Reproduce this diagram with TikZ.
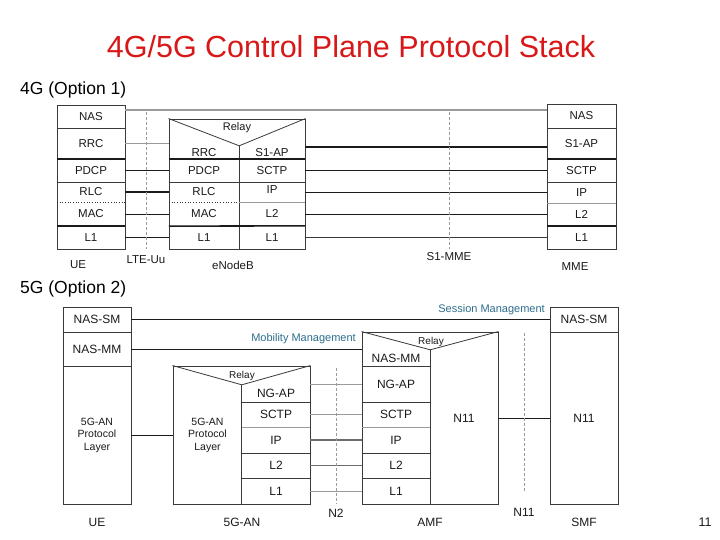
\documentclass[tikz,border=0pt]{standalone}
\usepackage{fontspec}
\setmainfont{Liberation Sans}
\usepackage{xcolor}
\usepackage{tikz}
\usetikzlibrary{calc}
\definecolor{psRed}{HTML}{D81818}
\definecolor{psTeal}{HTML}{2E6E8E}
\definecolor{psInk}{HTML}{1A1A1A}
\definecolor{psDark}{HTML}{3A3A3A}
\definecolor{psGrey}{HTML}{9A9A9A}
\tikzset{
  % Protocol stack frame
  stackbox/.style={rectangle,draw=psDark,line width=0.9pt,
    inner sep=0pt,fill=white},
  % One layer of a stack (text only, rules drawn apart)
  cell/.style={rectangle,inner sep=0pt,align=center,
    font=\fontsize{11.5}{13}\selectfont,text=psInk},
  cellg/.style={cell,font=\fontsize{12}{13}\selectfont},
  % Layer separators
  sep/.style={draw=psDark,line width=0.8pt},
  septhick/.style={draw=psInk,line width=1.6pt},
  sepgrey/.style={draw=psGrey,line width=0.8pt},
  sepdot/.style={draw=psDark,line width=0.7pt,dotted},
  % Peer-to-peer links
  link/.style={draw=psInk,line width=0.9pt},
  linkthick/.style={draw=psInk,line width=1.7pt},
  linkgrey/.style={draw=psGrey,line width=1.1pt},
  linkmid/.style={draw=psGrey!70!black,line width=1.4pt},
  % Reference points (interfaces)
  iface/.style={draw=psGrey,line width=0.7pt,densely dashed},
  % Texts
  relaytxt/.style={font=\fontsize{10.5}{12}\selectfont,text=psInk,inner sep=0pt},
  lbl/.style={font=\fontsize{11.5}{13}\selectfont,text=psInk,inner sep=0pt},
  mgmt/.style={font=\fontsize{11}{13}\selectfont,text=psTeal,inner sep=0pt},
  head/.style={font=\fontsize{17.5}{20}\selectfont,text=black,inner sep=0pt},
}
\begin{document}
\begin{tikzpicture}[x=1pt,y=-1pt]
  \useasboundingbox[fill=white] (0,0) rectangle (720,540);

  \node[font=\fontsize{30.5}{34}\selectfont,text=psRed] (title) at (351,47)
    {4G/5G Control Plane Protocol Stack};
  \node[head,anchor=west] (opt1) at (20,90) {4G (Option 1)};
  \node[head,anchor=west] (opt2) at (20,289) {5G (Option 2)};
  \node[lbl,font=\fontsize{12.5}{14}\selectfont] (pageno) at (705,522) {11};

  % ---------------- 4G : UE ----------------
  \node[stackbox,minimum width=68,minimum height=144] (ue4) at (91,177) {};
  \node[cell,minimum width=68,minimum height=23] (ue4nas) at (91,116.5) {NAS};
  \node[cell,minimum width=68,minimum height=31] (ue4rrc) at (91,143.5) {RRC};
  \node[cell,minimum width=68,minimum height=23] (ue4pdcp) at (91,170.5) {PDCP};
  \node[cell,minimum width=68,minimum height=20] (ue4rlc) at (91,192) {RLC};
  \node[cell,minimum width=68,minimum height=24] (ue4mac) at (91,214) {MAC};
  \node[cell,minimum width=68,minimum height=23] (ue4l1) at (91,237.5) {L1};
  \draw[sep] (ue4nas.south west) -- (ue4nas.south east);
  \draw[septhick] (ue4rrc.south west) -- (ue4rrc.south east);
  \draw[sep] (ue4pdcp.south west) -- (ue4pdcp.south east);
  \draw[sepdot] (ue4rlc.south west) -- (ue4rlc.south east);
  \draw[septhick] (ue4mac.south west) -- (ue4mac.south east);

  % ---------------- 4G : eNodeB ----------------
  \node[stackbox,minimum width=136,minimum height=130] (enb4) at (237,184) {};
  \node[cell,minimum width=70,minimum height=13] (enb4rrc) at (204,152.5) {RRC};
  \node[cell,minimum width=70,minimum height=23] (enb4pdcp) at (204,170.5) {PDCP};
  \node[cell,minimum width=70,minimum height=20] (enb4rlc) at (204,192) {RLC};
  \node[cell,minimum width=70,minimum height=24] (enb4mac) at (204,214) {MAC};
  \node[cell,minimum width=70,minimum height=23] (enb4l1) at (204,237.5) {L1};
  \node[cell,minimum width=66,minimum height=13] (enb4s1ap) at (272,152.5) {S1-AP};
  \node[cell,minimum width=66,minimum height=23] (enb4sctp) at (272,170.5) {SCTP};
  \node[cell,minimum width=66,minimum height=21] (enb4ip) at (272,190) {IP};
  \node[cell,minimum width=66,minimum height=23] (enb4ltwo) at (272,213) {L2};
  \node[cell,minimum width=66,minimum height=23] (enb4lone) at (272,237.5) {L1};
  \node[relaytxt,font=\fontsize{11}{12}\selectfont] (enb4relay) at (237,128) {Relay};
  \draw[sep] (enb4.north west) -- (enb4rrc.north east) -- (enb4.north east);
  \draw[sep] (enb4rrc.north east) -- (enb4l1.south east);
  \draw[septhick] (enb4rrc.south west) -- (enb4s1ap.south east);
  \draw[sep] (enb4pdcp.south west) -- (enb4sctp.south east);
  \draw[sepdot] (enb4rlc.south west) -- (enb4rlc.south east);
  \draw[sepgrey] (enb4rlc.south east) -- (enb4s1ap.south east |- enb4rlc.south);
  \draw[septhick] (enb4mac.south west) -- (enb4lone.north east);

  % ---------------- 4G : MME ----------------
  \node[stackbox,minimum width=69,minimum height=145] (mme4) at (581.5,176.5) {};
  \node[cell,minimum width=69,minimum height=24] (mme4nas) at (581.5,116) {NAS};
  \node[cell,minimum width=69,minimum height=31] (mme4s1ap) at (581.5,143.5) {S1-AP};
  \node[cell,minimum width=69,minimum height=23] (mme4sctp) at (581.5,170.5) {SCTP};
  \node[cell,minimum width=69,minimum height=21] (mme4ip) at (581.5,192.5) {IP};
  \node[cell,minimum width=69,minimum height=23] (mme4ltwo) at (581.5,214.5) {L2};
  \node[cell,minimum width=69,minimum height=23] (mme4lone) at (581.5,237.5) {L1};
  \draw[sep] (mme4nas.south west) -- (mme4nas.south east);
  \draw[septhick] (mme4s1ap.south west) -- (mme4s1ap.south east);
  \draw[sep] (mme4sctp.south west) -- (mme4sctp.south east);
  \draw[sepgrey] (mme4ip.south west) -- (mme4ip.south east);
  \draw[septhick] (mme4ltwo.south west) -- (mme4ltwo.south east);

  % 4G peer links
  \coordinate (nas4L) at ([yshift=6.5pt]ue4nas.east);
  \coordinate (s1apR) at ([yshift=-3.5pt]mme4s1ap.west);
  \draw[linkgrey] (nas4L) -- (nas4L -| mme4nas.west);
  \draw[linkgrey] (ue4rrc.east) -- (ue4rrc.east -| enb4.west);
  \draw[link] (ue4pdcp.east) -- (enb4pdcp.west);
  \draw[linkthick] (ue4rlc.east) -- (enb4rlc.west);
  \draw[link] (ue4mac.east) -- (enb4mac.west);
  \draw[link] (ue4l1.east) -- (enb4l1.west);
  \draw[linkthick] (s1apR -| enb4.east) -- (s1apR);
  \draw[link,line width=0.7pt] (enb4sctp.east) -- (mme4sctp.west);
  \draw[linkthick] (enb4ip.east |- mme4ip.west) -- (mme4ip.west);
  \draw[link,line width=1.1pt] (enb4ltwo.east |- mme4ltwo.west) -- (mme4ltwo.west);
  \draw[link,draw=psDark,line width=0.7pt] (enb4lone.east) -- (mme4lone.west);

  % 4G reference points and labels
  \coordinate (uuTop) at (146,112);
  \coordinate (s1mmeTop) at (449,112);
  \draw[iface] (uuTop) -- (uuTop |- ue4.south);
  \draw[iface] (s1mmeTop) -- (s1mmeTop |- mme4lone.south);
  \node[lbl] (ue4lbl) at (78,265) {UE};
  \node[lbl] (lteuu) at (146,260) {LTE-Uu};
  \node[lbl] (enb4lbl) at (233,265) {eNodeB};
  \node[lbl] (s1mme) at (449,257) {S1-MME};
  \node[lbl] (mme4lbl) at (575,267) {MME};

  % ---------------- 5G : UE ----------------
  \node[stackbox,minimum width=68,minimum height=197] (ue5) at (97,405.5) {};
  \node[cellg,minimum width=68,minimum height=25] (ue5nassm) at (97,319.5) {NAS-SM};
  \node[cellg,minimum width=68,minimum height=34] (ue5nasmm) at (97,349) {NAS-MM};
  \node[cell,font=\fontsize{10.5}{12.5}\selectfont,minimum width=68,minimum height=138]
    (ue5an) at (97,435) {5G-AN\\Protocol\\Layer};
  \draw[sep] (ue5nassm.south west) -- (ue5nassm.south east);
  \draw[sep] (ue5nasmm.south west) -- (ue5nasmm.south east);

  % ---------------- 5G : 5G-AN ----------------
  \node[stackbox,minimum width=137,minimum height=138] (an5) at (241.5,435) {};
  \node[cell,font=\fontsize{10.5}{12.5}\selectfont,minimum width=69,minimum height=138]
    (an5lay) at (207.5,435) {5G-AN\\Protocol\\Layer};
  \node[cellg,minimum width=68,minimum height=17] (an5ngap) at (276,393.5) {NG-AP};
  \node[cellg,minimum width=68,minimum height=25] (an5sctp) at (276,414.5) {SCTP};
  \node[cellg,minimum width=68,minimum height=26] (an5ip) at (276,440) {IP};
  \node[cellg,minimum width=68,minimum height=25] (an5ltwo) at (276,465.5) {L2};
  \node[cellg,minimum width=68,minimum height=26] (an5lone) at (276,491) {L1};
  \node[relaytxt,font=\fontsize{10}{11}\selectfont] (an5relay) at (242,376) {Relay};
  \draw[sep] (an5.north west) -- (an5ngap.north west) -- (an5.north east);
  \draw[sep] (an5ngap.north west) -- (an5lone.south west);
  \draw[sep] (an5ngap.south west) -- (an5ngap.south east);
  \draw[sepgrey] (an5sctp.south west) -- (an5sctp.south east);
  \draw[septhick,draw=psDark,line width=1.4pt] (an5ip.south west) -- (an5ip.south east);
  \draw[sep] (an5ltwo.south west) -- (an5ltwo.south east);

  % ---------------- 5G : AMF ----------------
  \node[stackbox,minimum width=136,minimum height=172] (amf5) at (430,418) {};
  \node[cellg,minimum width=68,minimum height=16] (amf5nasmm) at (396,358) {NAS-MM};
  \node[cellg,minimum width=68,minimum height=36] (amf5ngap) at (396,384) {NG-AP};
  \node[cellg,minimum width=68,minimum height=25] (amf5sctp) at (396,414.5) {SCTP};
  \node[cellg,minimum width=68,minimum height=26] (amf5ip) at (396,440) {IP};
  \node[cellg,minimum width=68,minimum height=25] (amf5ltwo) at (396,465.5) {L2};
  \node[cellg,minimum width=68,minimum height=26] (amf5lone) at (396,491) {L1};
  \node[cellg,minimum width=68,minimum height=136] (amf5n11) at (464,418) {N11};
  \node[relaytxt,font=\fontsize{10}{11}\selectfont] (amf5relay) at (431,342) {Relay};
  \draw[sep] (amf5.north west) -- (amf5nasmm.north east) -- (amf5.north east);
  \draw[sep] (amf5nasmm.north east) -- (amf5lone.south east);
  \draw[sep] (amf5nasmm.south west) -- (amf5nasmm.south east);
  \draw[sep] (amf5ngap.south west) -- (amf5ngap.south east);
  \draw[sepgrey] (amf5sctp.south west) -- (amf5sctp.south east);
  \draw[septhick,draw=psDark,line width=1.4pt] (amf5ip.south west) -- (amf5ip.south east);
  \draw[sep] (amf5ltwo.south west) -- (amf5ltwo.south east);

  % ---------------- 5G : SMF ----------------
  \node[stackbox,minimum width=68,minimum height=197] (smf5) at (584,405.5) {};
  \node[cellg,minimum width=68,minimum height=25] (smf5nassm) at (584,319.5) {NAS-SM};
  \node[cellg,minimum width=68,minimum height=150] (smf5n11) at (584,418) {N11};
  \draw[sep] (smf5nassm.south west) -- (smf5nassm.south east);

  % 5G peer links
  \draw[link] (ue5nassm.east) -- (ue5nassm.east -| smf5.west);
  \draw[link] (ue5nasmm.east) -- (ue5nasmm.east -| amf5.west);
  \draw[link] (ue5an.east) -- (an5lay.west);
  \draw[linkgrey,line width=0.8pt] (an5.east |- amf5ngap.west) -- (amf5ngap.west);
  \draw[linkgrey,line width=0.8pt] (an5sctp.east) -- (amf5sctp.west);
  \draw[linkmid,line width=1.1pt] (an5ip.east) -- (amf5ip.west);
  \draw[linkmid,line width=1.8pt] (an5ltwo.east) -- (amf5ltwo.west);
  \draw[linkgrey,line width=0.8pt] (an5lone.east) -- (amf5lone.west);
  \draw[link] (amf5n11.east) -- (smf5n11.west);

  \node[mgmt,anchor=east] (mobmgmt) at (356,339) {Mobility Management};
  \node[mgmt,anchor=east] (sesmgmt) at (545,310) {Session Management};

  % 5G reference points and labels
  \coordinate (ntwoTop) at (336,368);
  \coordinate (nelevenTop) at (524,333);
  \draw[iface] (ntwoTop) -- (ntwoTop |- an5.south);
  \draw[iface] (nelevenTop) -- (nelevenTop |- amf5lone.center);
  \node[lbl,font=\fontsize{12}{13}\selectfont] (ntwo) at (336,513) {N2};
  \node[lbl,font=\fontsize{12}{13}\selectfont] (neleven) at (524,512) {N11};
  \node[lbl,font=\fontsize{12}{13}\selectfont] (ue5lbl) at (97,522) {UE};
  \node[lbl,font=\fontsize{12}{13}\selectfont] (an5lbl) at (242,522) {5G-AN};
  \node[lbl,font=\fontsize{12}{13}\selectfont] (amf5lbl) at (430,522) {AMF};
  \node[lbl,font=\fontsize{12}{13}\selectfont] (smf5lbl) at (584,522) {SMF};
\end{tikzpicture}
\end{document}
